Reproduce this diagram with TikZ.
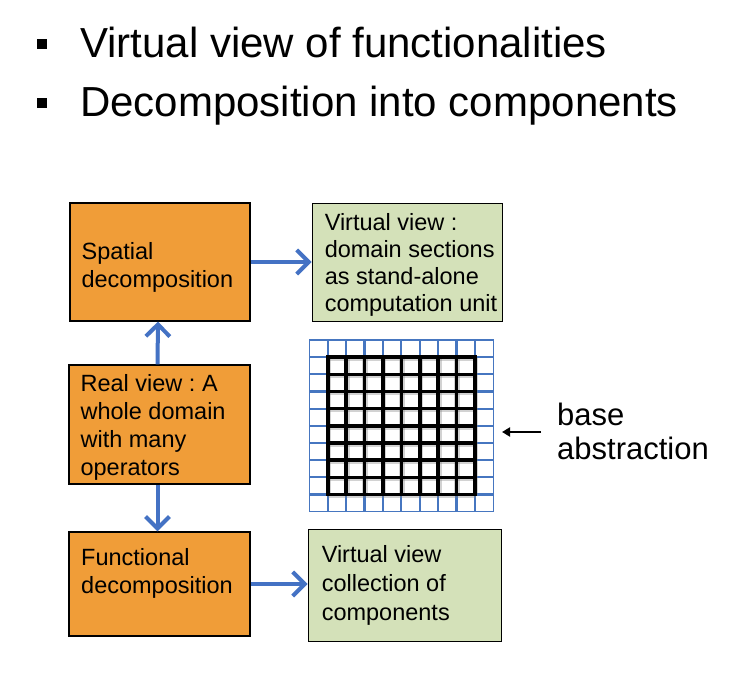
\documentclass[tikz,border=0pt]{standalone}
\usepackage{fontspec}
\setmainfont{Liberation Sans}
\usetikzlibrary{arrows.meta}
\definecolor{orangebox}{RGB}{240,157,56}
\definecolor{greenbox}{RGB}{212,225,185}
\definecolor{arrowblue}{RGB}{68,114,196}
\definecolor{gridblue}{RGB}{70,118,192}
\tikzset{
  orangenode/.style={draw=black, line width=1.2pt, fill=orangebox, inner sep=0pt, rectangle},
  greennode/.style={draw=black, line width=0.9pt, fill=greenbox, inner sep=0pt, rectangle},
  boxtext/.style={inner sep=0pt, align=left, font=\fontsize{23.5}{28}\selectfont\frenchspacing},
  titletext/.style={inner sep=0pt, anchor=base west, font=\fontsize{42}{48}\selectfont},
  bluearrow/.style={draw=arrowblue, line width=4pt, -{Straight Barb[length=12pt,width=24pt]}},
  blackarrow/.style={draw=black, line width=1.8pt, -{Triangle[length=8pt,width=9pt]}},
  bulletsq/.style={fill=black, draw=none, minimum size=10.5pt, inner sep=0pt, rectangle}
}
\begin{document}
\begin{tikzpicture}[x=1pt,y=-1pt]
\useasboundingbox[fill=white] (0,0) rectangle (750,684);

% title bullets
\node[bulletsq] (b1) at (42,44) {};
\node[bulletsq] (b2) at (42,103) {};
\node[titletext] (t1) at (80,58) {Virtual view of functionalities};
\node[titletext] (t2) at (80,117) {Decomposition into components};

% boxes
\node[orangenode, minimum width=180pt, minimum height=118pt] (sp) at (160,262) {};
\node[orangenode, minimum width=181pt, minimum height=119pt] (rv) at (159.5,424.5) {};
\node[orangenode, minimum width=181pt, minimum height=104pt] (fd) at (159.5,584) {};
\node[greennode, minimum width=190pt, minimum height=118pt] (g1) at (407,262) {};
\node[greennode, minimum width=193pt, minimum height=112pt] (g2) at (404.5,585) {};

% box texts
\node[boxtext, anchor=west] (sptext) at ([xshift=12pt,yshift=-5pt]sp.west) {Spatial\\decomposition};
\node[boxtext, anchor=west] (rvtext) at ([xshift=12pt,yshift=-3pt]rv.west) {Real view : A\\whole domain\\with many\\operators};
\node[boxtext, anchor=north west] (fdtext) at (81,548) {Functional\\decomposition};
\node[boxtext, anchor=west, font=\fontsize{23.5}{26.8}\selectfont\frenchspacing] (g1text) at ([xshift=13pt,yshift=-3pt]g1.west) {Virtual view :\\domain sections\\as stand-alone\\computation unit};
\node[boxtext, anchor=west, font=\fontsize{23.5}{29}\selectfont\frenchspacing] (g2text) at ([xshift=14pt]g2.west) {Virtual view\\collection of\\components};

% blue connectors
\draw[bluearrow] (sp.east) -- (g1.west);
\draw[bluearrow] ([xshift=-2pt]rv.north) -- ([xshift=-2pt]sp.south);
\draw[bluearrow] ([xshift=-2pt]rv.south) -- ([xshift=-2pt]fd.north);
\draw[bluearrow] (fd.east) -- (g2.west |- fd.east);

% grid (base abstraction picture)
\foreach \k in {1,...,9} {
  \draw[gridblue, line width=2.2pt] (309.3+18.4*\k,340) -- (309.3+18.4*\k,511.7);
  \draw[gridblue, line width=2.2pt] (309.3,340+17.17*\k) -- (493.3,340+17.17*\k);
}
\draw[gridblue, line width=1.2pt] (309.3,340) rectangle (493.3,511.7);
\foreach \k in {1,...,9} {
  \draw[black!50, opacity=0.35, line width=5.5pt] (310+18.4*\k,358) -- (310+18.4*\k,495.3);
  \draw[black!50, opacity=0.35, line width=5.5pt] (328.4,341+17.17*\k) -- (475.7,341+17.17*\k);
}
\foreach \k in {1,...,9} {
  \draw[black, line width=3.6pt, line cap=rect] (309.3+18.4*\k,357.2) -- (309.3+18.4*\k,494.5);
  \draw[black, line width=3.6pt, line cap=rect] (327.7,340+17.17*\k) -- (475,340+17.17*\k);
}

% base abstraction label
\node[inner sep=0pt, align=left, anchor=west, font=\fontsize{31}{34}\selectfont] (ba) at (557,431) {base\\abstraction};
\coordinate (arrS) at (541,432);
\coordinate (arrE) at (502,432);
\draw[blackarrow] (arrS) -- (arrE);
\end{tikzpicture}
\end{document}
